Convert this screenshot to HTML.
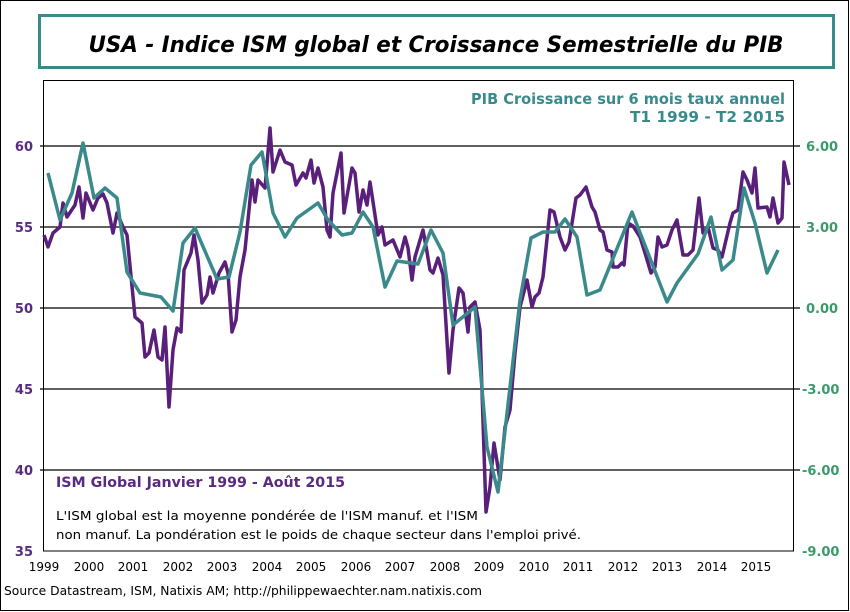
<!DOCTYPE html>
<html><head><meta charset="utf-8"><style>
body{margin:0;background:#fff}
svg{display:block;font-family:"DejaVu Sans","Liberation Sans",sans-serif}
</style></head><body>
<svg width="850" height="612" viewBox="0 0 850 612" xmlns="http://www.w3.org/2000/svg">
<rect x="0.5" y="0.5" width="848" height="610" fill="#fff" stroke="#000"/>
<rect x="39.5" y="15.5" width="794" height="52" fill="#fff" stroke="#3a8a8c" stroke-width="3"/>
<text x="436" y="52" text-anchor="middle" font-size="22" font-weight="bold" font-style="italic" fill="#000" textLength="695" lengthAdjust="spacingAndGlyphs">USA - Indice ISM global et Croissance  Semestrielle du PIB</text>
<rect x="43.5" y="80.5" width="750" height="470.5" fill="none" stroke="#000"/>
<g stroke="#000" stroke-width="1.3">
<line x1="40" y1="146" x2="800" y2="146"/><line x1="40" y1="227" x2="800" y2="227"/><line x1="40" y1="308" x2="800" y2="308"/><line x1="40" y1="389" x2="800" y2="389"/><line x1="40" y1="470" x2="800" y2="470"/>
</g>
<g font-size="13" font-weight="bold" fill="#5a2a80" text-anchor="end">
<text x="33" y="151">60</text><text x="33" y="232">55</text><text x="33" y="313">50</text><text x="33" y="394">45</text><text x="33" y="475">40</text><text x="33" y="556">35</text>
</g>
<g font-size="13" font-weight="bold" fill="#3a9a6a">
<text x="806" y="151">6.00</text><text x="806" y="232">3.00</text><text x="806" y="313">0.00</text><text x="802" y="394">-3.00</text><text x="802" y="475">-6.00</text><text x="802" y="556">-9.00</text>
</g>
<g font-size="12" fill="#000" text-anchor="middle">
<text x="44" y="571">1999</text><text x="89" y="571">2000</text><text x="133" y="571">2001</text><text x="178" y="571">2002</text><text x="222" y="571">2003</text><text x="267" y="571">2004</text><text x="311" y="571">2005</text><text x="356" y="571">2006</text><text x="400" y="571">2007</text><text x="445" y="571">2008</text><text x="489" y="571">2009</text><text x="534" y="571">2010</text><text x="578" y="571">2011</text><text x="623" y="571">2012</text><text x="667" y="571">2013</text><text x="712" y="571">2014</text><text x="756" y="571">2015</text>
</g>
<text x="4" y="595" font-size="12.5" fill="#000" textLength="478" lengthAdjust="spacingAndGlyphs">Source Datastream, ISM, Natixis AM; http://philippewaechter.nam.natixis.com</text>
<g font-size="15" font-weight="bold" fill="#3a8a8c" text-anchor="end">
<text x="785" y="104" textLength="314" lengthAdjust="spacingAndGlyphs">PIB Croissance sur 6 mois taux annuel</text>
<text x="785" y="122" textLength="155" lengthAdjust="spacingAndGlyphs">T1 1999 - T2 2015</text>
</g>
<text x="56" y="487" font-size="14" font-weight="bold" fill="#5a2a80" textLength="289" lengthAdjust="spacingAndGlyphs">ISM Global Janvier 1999 - Août 2015</text>
<text x="56" y="520" font-size="12.5" fill="#000" textLength="422" lengthAdjust="spacingAndGlyphs">L'ISM global est la moyenne pondérée de l'ISM manuf.  et l'ISM</text>
<text x="56" y="539" font-size="12.5" fill="#000" textLength="525" lengthAdjust="spacingAndGlyphs">non manuf.  La pondération  est le poids de chaque secteur dans  l'emploi  privé.</text>
<polyline fill="none" stroke="#5a1f7a" stroke-width="3.5" stroke-linejoin="round" points="44,235 48,247 53,233 60,227 63,203 67,217 75,205 79,187 83,218 86,193 93,210 98,198 103,194 107,203 113,233 117,213 123,227 127,235 135,317 142,323 145,357 149,353 154,330 158,357 162,360 165,327 169,407 173,350 177,328 181,332 184,270 191,253 194,235 198,260 202,303 207,295 210,277 213,293 219,273 225,262 228,273 232,332 236,320 240,277 245,250 252,180 255,202 258,180 265,188 270,128 273,172 280,150 285,162 292,165 296,185 303,173 306,178 311,160 314,183 318,168 323,187 327,230 330,237 333,193 341,153 344,213 352,168 355,173 359,212 363,190 367,205 370,182 378,235 382,227 385,245 393,240 400,257 405,237 408,248 412,280 415,257 423,230 427,252 430,270 433,273 438,258 443,275 449,373 453,330 459,288 463,293 468,332 470,307 475,302 480,330 486,512 490,487 494,443 500,480 505,427 510,410 515,353 520,307 527,280 532,307 535,297 539,293 543,277 550,210 554,212 560,237 565,250 569,242 576,198 580,195 586,187 592,207 595,212 600,230 603,232 607,250 612,252 613,267 618,267 622,263 624,265 628,223 633,226 640,237 645,253 651,273 655,267 658,237 662,247 667,245 672,230 677,220 683,255 688,255 693,250 699,198 703,233 708,227 713,248 718,250 722,257 730,223 733,213 738,210 743,172 747,180 752,193 755,168 758,208 767,207 770,217 773,198 778,223 782,218 784,162 789,185"/>
<polyline fill="none" stroke="#3a8a8c" stroke-width="3.5" stroke-linejoin="round" points="48,173 60,220 72,193 83,143 94,198 105,188 117,198 127,272 140,293 161,297 173,311 183,243 195,228 217,279 229,277 240,232 251,165 262,152 273,213 285,237 297,218 318,203 328,220 342,235 352,233 363,212 373,227 385,287 397,261 418,264 431,230 443,253 453,325 475,307 487,447 498,492 520,300 531,238 543,232 555,232 565,219 577,237 587,295 600,290 632,212 667,302 677,283 698,254 711,217 722,270 733,260 744,188 755,223 767,273 778,250"/>
</svg>
</body></html>
